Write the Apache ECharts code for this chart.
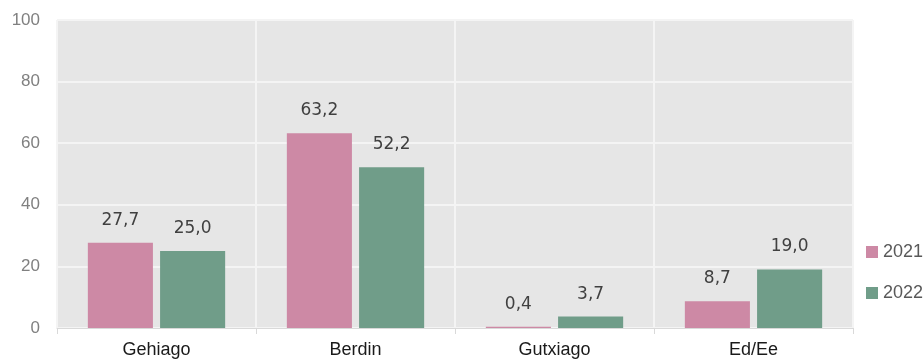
<!DOCTYPE html>
<html>
<head>
<meta charset="utf-8">
<script src="https://cdn.jsdelivr.net/npm/echarts@6/dist/echarts.min.js"></script>
<style>
  html, body { margin: 0; padding: 0; background: #ffffff; }
  #chart { width: 923px; height: 361px; }
</style>
</head>
<body>
<div id="chart"></div>
<script>
const categories = ['Gehiago', 'Berdin', 'Gutxiago', 'Ed/Ee'];
const values2021 = [27.7, 63.2, 0.4, 8.7];
const values2022 = [25.0, 52.2, 3.7, 19.0];
const seriesNames = ['2021', '2022'];
const yTicks = [0, 20, 40, 60, 80, 100];

// Decimal comma for value labels
const fmt = v => v.toFixed(1).replace('.', ',');

const chart = echarts.init(document.getElementById('chart'));

const labelStyle = {
  show: true,
  position: 'top',
  distance: 14,
  fontFamily: 'DejaVu Sans, sans-serif',
  fontSize: 17,
  color: '#404040',
  formatter: p => fmt(p.value)
};

chart.setOption({
  animation: false,
  textStyle: { fontFamily: 'Liberation Sans, Arial, sans-serif' },
  grid: {
    left: 57, right: 70, top: 20, bottom: 33,
    show: true,
    backgroundColor: '#e6e6e6',
    borderWidth: 0
  },
  legend: {
    orient: 'vertical',
    left: 861,
    top: 238,
    itemWidth: 12,
    itemHeight: 12,
    itemGap: 23,
    icon: 'rect',
    data: seriesNames,
    textStyle: { fontSize: 18, color: '#595959' }
  },
  xAxis: {
    type: 'category',
    data: categories,
    axisLine: { show: true, lineStyle: { color: '#d9d9d9', width: 1 } },
    axisTick: { show: true, length: 6, lineStyle: { color: '#d9d9d9' } },
    axisLabel: { fontSize: 18, color: '#1a1a1a', margin: 13 },
    splitLine: { show: true, lineStyle: { color: '#f4f4f4', width: 2 } }
  },
  yAxis: {
    type: 'value',
    min: yTicks[0],
    max: yTicks[yTicks.length - 1],
    interval: yTicks[1] - yTicks[0],
    axisLine: { show: false },
    axisTick: { show: false },
    axisLabel: { fontSize: 17, color: '#808080', margin: 17 },
    splitLine: { show: true, lineStyle: { color: '#f4f4f4', width: 2 } }
  },
  series: [
    {
      name: seriesNames[0],
      type: 'bar',
      data: values2021,
      itemStyle: { color: '#cd89a5' },
      barCategoryGap: '31%',
      barGap: '11%',
      label: labelStyle
    },
    {
      name: seriesNames[1],
      type: 'bar',
      data: values2022,
      itemStyle: { color: '#709d89' },
      label: labelStyle
    }
  ]
});
</script>
</body>
</html>
